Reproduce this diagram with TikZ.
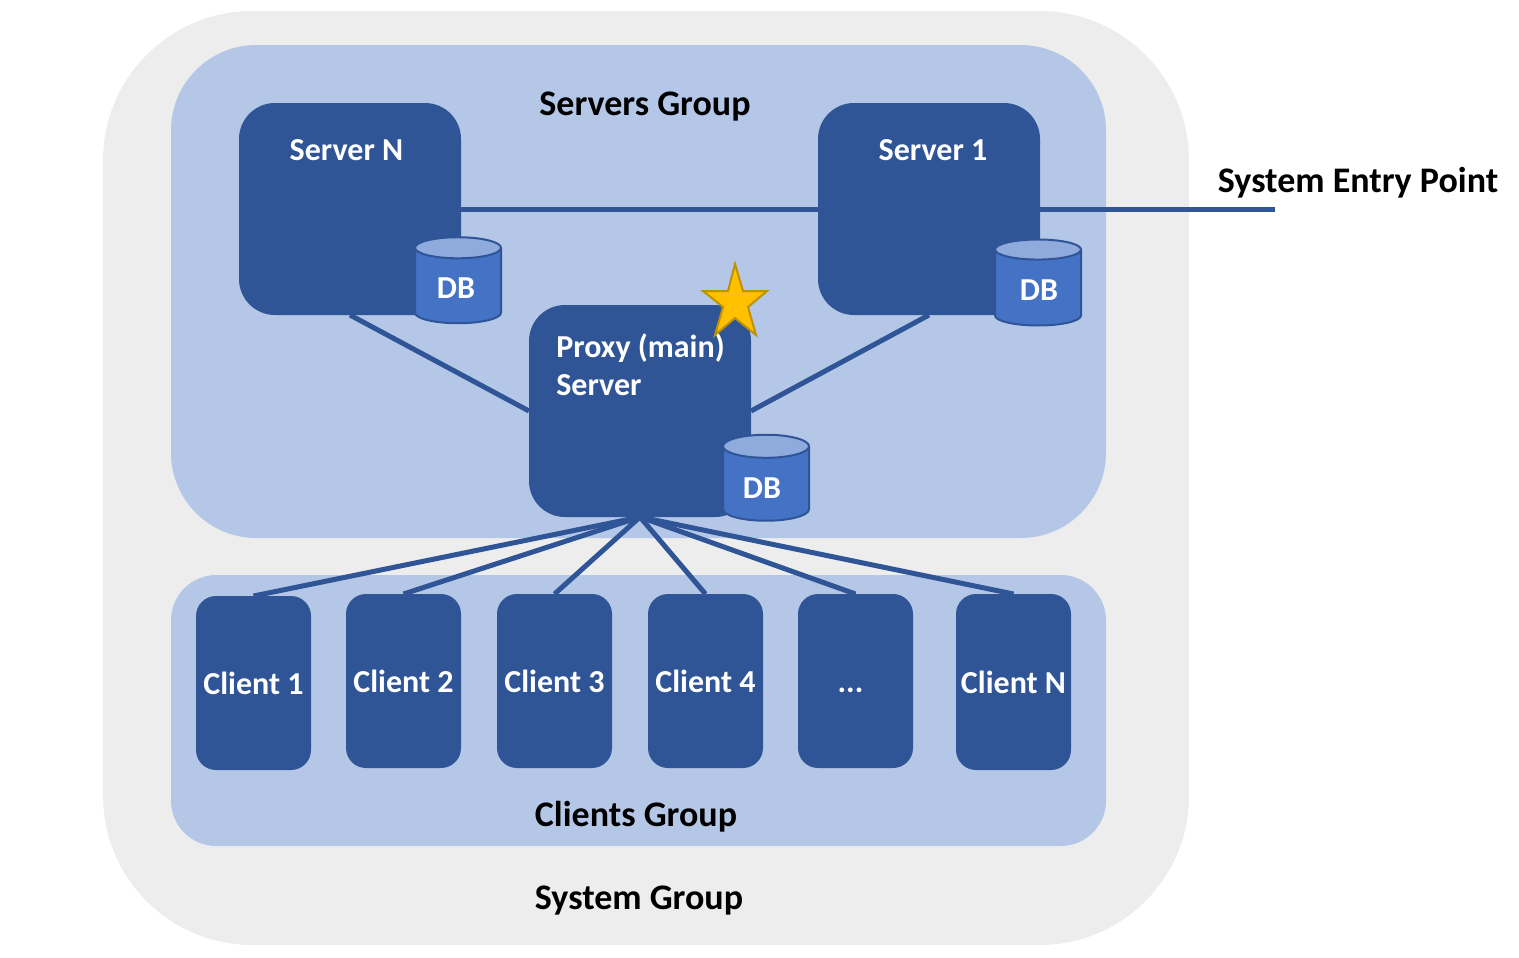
\documentclass[tikz,border=0pt]{standalone}
\usepackage{fontspec}
\setmainfont{Carlito}
\usetikzlibrary{shapes.geometric}
\definecolor{sysgrey}{HTML}{EDEDED}
\definecolor{grpblue}{HTML}{B4C7E7}
\definecolor{boxblue}{HTML}{2F5597}
\definecolor{dbblue}{HTML}{4472C4}
\definecolor{dbtop}{HTML}{8FAADC}
\definecolor{starfill}{HTML}{FFC000}
\definecolor{starline}{HTML}{BF9000}
\tikzset{grp/.style={fill=#1, inner sep=0pt, outer sep=0pt},
  srv/.style={fill=boxblue, inner sep=0pt, outer sep=0pt, minimum width=166.5pt, minimum height=159pt, rounded corners=27pt},
  cli/.style={fill=boxblue, inner sep=0pt, outer sep=0pt, minimum width=86.25pt, minimum height=130.5pt, rounded corners=15pt, text=white, font=\bfseries\fontsize{24pt}{29pt}\selectfont},
  db/.style={cylinder, shape border rotate=90, aspect=0.5, draw=boxblue, line width=1.5pt, cylinder uses custom fill, cylinder body fill=dbblue, cylinder end fill=dbtop, minimum width=64.5pt, minimum height=64.5pt, inner sep=0pt, text=white, font=\bfseries\fontsize{24pt}{29pt}\selectfont},
  wire/.style={draw=boxblue, line width=3.75pt},
  lbl/.style={font=\bfseries\fontsize{27pt}{32pt}\selectfont, inner sep=0pt},
  wlbl/.style={text=white, align=left, font=\bfseries\fontsize{24pt}{28.5pt}\selectfont, inner sep=0pt}}

\begin{document}
\begin{tikzpicture}[x=0.75pt,y=-0.75pt]
  \useasboundingbox (0,0) rectangle (1519,957);
  % groups
  \node[grp=sysgrey, minimum width=814.5pt, minimum height=700.5pt, rounded corners=112pt] (sys) at (646,478) {};
  \node[grp=grpblue, minimum width=701.25pt, minimum height=369.75pt, rounded corners=64pt] (srvgrp) at (638.5,291.5) {};
  \node[grp=grpblue, minimum width=701.25pt, minimum height=203.25pt, rounded corners=34pt] (cligrp) at (638.5,710.5) {};
  \node[lbl] (syslbl) at (639,900.5) {System Group};
  \node[lbl] (srvlbl) at (645,107) {Servers Group};
  \node[lbl] (clilbl) at (636,816.5) {Clients Group};
  % servers
  \node[srv] (srvn) at (350,209) {};
  \node[srv] (srv1) at (929,209) {};
  \node[srv] (proxy) at (640,411) {};
  \node[wlbl] (srvnlbl) at (346.5,150) {Server N};
  \node[wlbl] (srv1lbl) at (933,150) {Server 1};
  \node[wlbl, anchor=west] (proxylbl) at (556,365) {Proxy (main)\\Server};
  \node[db] (dbn) at (458,286) {\raisebox{-0.8pt}[\dimexpr\height+1.5pt][\dimexpr\depth-1.5pt]{DB}\kern3pt};
  \node[db] (db1) at (1038,288) {\kern1.5pt\raisebox{-0.8pt}[\dimexpr\height+1.5pt][\dimexpr\depth-1.5pt]{DB}};
  \node[db] (dbp) at (766,484) {\raisebox{-2.5pt}[\dimexpr\height+1.5pt][\dimexpr\depth-1.5pt]{DB}\kern6pt};
  % clients
  \foreach \name/\cx/\cy/\ch/\txt in {c1/253.5/683/130.5/Client 1,c2/403.5/681/130.5/Client 2,c3/554.5/681/130.5/Client 3,c4/705.5/681/130.5/Client 4,c5/855.5/681/130.5/{\vphantom{Client}...\kern7.5pt},c6/1013.5/682/132/Client N}{
    \node[cli, minimum height=\ch pt] (\name) at (\cx,\cy) {\txt};
    \draw[wire] (proxy.south) -- (\name.north);}
  % links
  \coordinate (entry) at (1275,209);
  \draw[wire] (srvn.east) -- (srv1.west);
  \draw[wire] (srv1.east) -- (entry);
  \draw[wire] (srvn.south) -- (proxy.west);
  \draw[wire] (srv1.south) -- (proxy.east);
  \node[lbl] (entrylbl) at (1358,183) {System Entry Point};
  % main server mark
  \draw[fill=starfill, draw=starline, line width=1.5pt] (735,264) -- (743,291) -- (767,291) -- (748,307) -- (756,335) -- (735,318) -- (715,335) -- (723,307) -- (703,291) -- (728,291) -- cycle;
\end{tikzpicture}
\end{document}
